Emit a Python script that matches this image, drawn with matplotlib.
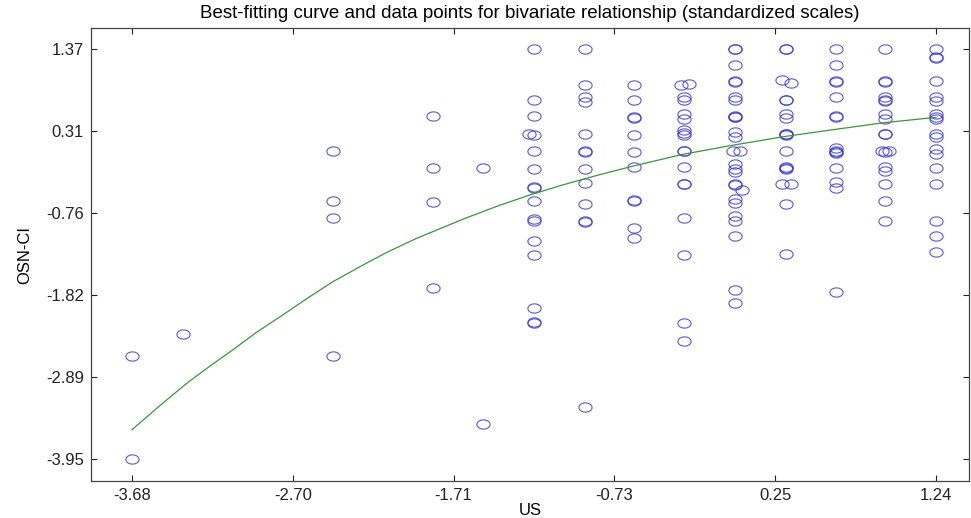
import numpy as np
import matplotlib
matplotlib.use("Agg")
import matplotlib.pyplot as plt

plt.rcParams['font.family'] = ['Liberation Sans', 'DejaVu Sans']

# x position of each column of points (US, standardized)
col_us = [-3.68, -3.37, -2.45, -1.84, -1.53, -1.22, -0.91, -0.61, -0.30,
          0.01, 0.32, 0.63, 0.93, 1.24]

# OSN-CI values in each column
col_osn = [
    [-2.62, -3.95],
    [-2.33],
    [0.04, -0.61, -0.83, -2.62],
    [0.50, -0.18, -0.62, -1.73],
    [-0.18, -3.50],
    [1.37, 0.70, 0.50, 0.26, 0.25, 0.04, -0.19, -0.42, -0.43, -0.60, -0.84,
     -0.86, -1.12, -1.30, -1.99, -2.17, -2.19],
    [1.37, 0.90, 0.74, 0.68, 0.26, 0.04, 0.03, -0.19, -0.37, -0.64, -0.87,
     -0.88, -3.27],
    [0.90, 0.70, 0.49, 0.47, 0.25, 0.03, -0.17, -0.59, -0.61, -0.95, -1.08],
    [0.90, 0.91, 0.74, 0.70, 0.52, 0.46, 0.32, 0.28, 0.25, 0.05, 0.04, -0.17,
     -0.38, -0.39, -0.83, -1.30, -2.19, -2.42],
    [1.37, 1.36, 1.16, 0.95, 0.94, 0.75, 0.70, 0.50, 0.49, 0.48, 0.29, 0.23,
     0.04, 0.05, -0.13, -0.19, -0.23, -0.39, -0.40, -0.46, -0.58, -0.63,
     -0.80, -0.86, -1.06, -1.76, -1.93],
    [1.37, 1.36, 0.97, 0.92, 0.71, 0.70, 0.52, 0.47, 0.27, 0.26, 0.25, 0.04,
     -0.17, -0.18, -0.19, -0.38, -0.39, -0.65, -1.29],
    [1.37, 1.16, 0.95, 0.94, 0.74, 0.50, 0.49, 0.08, 0.05, 0.03, 0.02, -0.18,
     -0.36, -0.43, -1.78],
    [1.37, 0.95, 0.94, 0.74, 0.71, 0.69, 0.52, 0.46, 0.27, 0.26, 0.05, 0.04,
     0.03, -0.16, -0.21, -0.38, -0.60, -0.87],
    [1.37, 1.26, 1.25, 0.95, 0.74, 0.69, 0.52, 0.49, 0.46, 0.26, 0.23, 0.07,
     0.01, -0.18, -0.39, -0.86, -1.06, -1.27],
]

# small sideways offsets seen on some overlapping circles
col_shift = {5: [0, 0, 0, -0.03], 8: [-0.02, 0.03], 9: [0] * 12 + [-0.01, 0.03] + [0] * 5 + [0.04],
             10: [0, 0, -0.02, 0.03] + [0] * 11 + [-0.02, 0.03], 12: [0] * 10 + [-0.02, 0.02]}

# fitted curve
curve_us = [-3.68, -3.50, -3.34, -3.20, -3.06, -2.92, -2.77, -2.61, -2.45,
            -2.28, -2.12, -1.94, -1.78, -1.63, -1.43, -1.25, -1.05, -0.83,
            -0.61, -0.31, 0.00, 0.31, 0.61, 0.92, 1.24]
curve_osn = [-3.57, -3.24, -2.96, -2.74, -2.53, -2.31, -2.10, -1.87, -1.65,
             -1.45, -1.27, -1.09, -0.95, -0.82, -0.66, -0.53, -0.40, -0.27,
             -0.15, 0.00, 0.12, 0.23, 0.32, 0.41, 0.48]

x_ticks = [-3.68, -2.696, -1.712, -0.728, 0.256, 1.24]
x_labels = ['-3.68', '-2.70', '-1.71', '-0.73', '0.25', '1.24']
y_ticks = [1.37, 0.306, -0.758, -1.822, -2.886, -3.95]
y_labels = ['1.37', '0.31', '-0.76', '-1.82', '-2.89', '-3.95']

xs, ys = [], []
for i, (cx, vals) in enumerate(zip(col_us, col_osn)):
    shifts = col_shift.get(i, [])
    for j, v in enumerate(vals):
        dx = shifts[j] if j < len(shifts) else 0
        xs.append(cx + dx)
        ys.append(v)

# circles look a bit wider than tall in the original
t = np.linspace(0, 2 * np.pi, 40)
ellipse = np.column_stack([np.cos(t), 0.7 * np.sin(t)])

fig = plt.figure(figsize=(9.71, 5.18), dpi=100)
ax = fig.add_axes([0.0937, 0.0714, 0.9042, 0.8745])

ax.plot(xs, ys, linestyle='none', marker=ellipse, markersize=9.5,
        markerfacecolor='none', markeredgecolor='#3c3cc0', markeredgewidth=0.8, alpha=0.85)
ax.plot(curve_us, curve_osn, color='#3f923f', linewidth=0.9)

ax.set_xlim(-3.931, 1.442)
ax.set_ylim(-4.235, 1.638)
ax.set_xticks(x_ticks)
ax.set_xticklabels(x_labels)
ax.set_yticks(y_ticks)
ax.set_yticklabels(y_labels)
ax.tick_params(direction='in', length=4, width=0.8, top=True, right=True,
               labelsize=12, colors='#222222', pad=5)
for s in ax.spines.values():
    s.set_color('#444444')
    s.set_linewidth(0.9)

ax.set_xlabel('US', fontsize=12, labelpad=0)
ax.set_ylabel('OSN-CI', fontsize=12, labelpad=10)
ax.set_title('Best-fitting curve and data points for bivariate relationship (standardized scales)',
             fontsize=13.5, pad=7)

fig.savefig('out.png', dpi=100)
